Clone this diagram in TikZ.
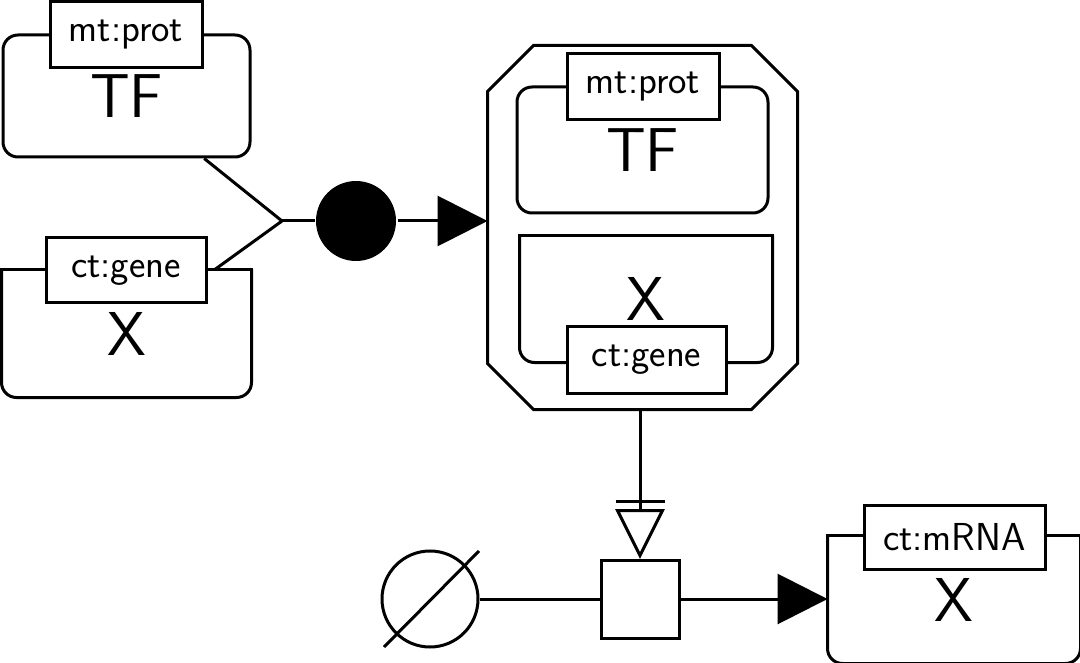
\documentclass[tikz,border=0pt]{standalone}
\usepackage{fontspec}
\usetikzlibrary{arrows.meta}
\begin{document}
\begin{tikzpicture}[x=1pt,y=-1pt,line width=3pt,
  bigfont/.style={font=\sffamily\fontsize{62}{62}\selectfont},
  macro/.style={draw, rectangle, rounded corners=15pt, inner sep=0pt, bigfont},
  nafbox/.style={rectangle, inner sep=0pt, bigfont},
  uoi/.style={draw, fill=white, rectangle, inner sep=0pt, font=\sffamily\fontsize{39}{39}\selectfont},
  arr/.style={-{Triangle[length=50pt,width=50pt]}},
  nafshape/.style={rounded corners=15pt},
]
\fill[white] (0,0) rectangle (1080,663);
\useasboundingbox (0,0) rectangle (1080,663);

% left TF macromolecule
\node[macro, minimum width=247pt, minimum height=122pt] (tf1) at (126.5,96) {TF};
% left gene
\node[nafbox, minimum width=247pt, minimum height=125pt] (gene1) at (126.5,333.5) {X};
\draw[nafshape] (gene1.north west) -- (gene1.south west) -- (gene1.south east) -- (gene1.north east);
\draw[line cap=rect] (gene1.north west) -- (gene1.north east);

% association
\coordinate (junc) at (282,221);
\node[circle, fill=black, minimum size=80pt, inner sep=0pt] (assoc) at (356,221) {};
\draw (junc) -- (tf1);
\draw (junc) -- (gene1);
\draw (junc) -- (assoc);

% complex
\node[rectangle, minimum width=307pt, minimum height=361pt, inner sep=0pt] (cx) at (642.5,227.5) {};
\draw ([xshift=46pt]cx.north west) -- ([xshift=-46pt]cx.north east) -- ([yshift=-46pt]cx.north east)
  -- ([yshift=46pt]cx.south east) -- ([xshift=-46pt]cx.south east) -- ([xshift=46pt]cx.south west)
  -- ([yshift=46pt]cx.south west) -- ([yshift=-46pt]cx.north west) -- cycle;
\node[macro, minimum width=251pt, minimum height=126pt] (tf2) at (642.5,150) {TF};
\node[nafbox, minimum width=250pt, minimum height=124pt] (gene2) at (646,299) {X};
\draw[nafshape] (gene2.north west) -- (gene2.south west) -- (gene2.south east) -- (gene2.north east);
\draw[line cap=rect] (gene2.north west) -- (gene2.north east);

\draw[arr] (assoc) -- (assoc -| cx.west);

% process
\node[draw, rectangle, minimum size=78pt, inner sep=0pt] (proc) at (640,599) {};
\node[draw, circle, minimum size=96pt, inner sep=0pt] (es) at (430,599) {};
\draw ([shift={(-46,48)}]es.center) -- ([shift={(49,-48)}]es.center);
\draw (es) -- (proc);

\draw (proc |- cx.south) -- ([yshift=48pt]proc.north);
\draw[fill=white] ([yshift=3pt]proc.north) -- ++(-22.5,-45) -- ++(45,0) -- cycle;
\draw ([shift={(-24.5,-57)}]proc.north) -- ++(49,0);

% mRNA
\node[nafbox, minimum width=250pt, minimum height=125pt] (mrna) at (954,599.5) {X};
\draw[nafshape] (mrna.north west) -- (mrna.south west) -- (mrna.south east) -- (mrna.north east);
\draw[line cap=rect] (mrna.north west) -- (mrna.north east);
\draw[arr] (proc) -- (proc -| mrna.west);

% units of information
\node[uoi, minimum width=152pt, minimum height=66pt] (u1) at (126,35) {mt:prot};
\node[uoi, minimum width=160pt, minimum height=65pt] (u2) at (126,270.5) {ct:gene};
\node[uoi, minimum width=152pt, minimum height=66pt] (u3) at (643,87) {mt:prot};
\node[uoi, minimum width=159pt, minimum height=66pt] (u4) at (646.5,360) {ct:gene};
\node[uoi, minimum width=181pt, minimum height=64pt] (u5) at (954.5,537) {ct:mRNA};
\end{tikzpicture}
\end{document}
